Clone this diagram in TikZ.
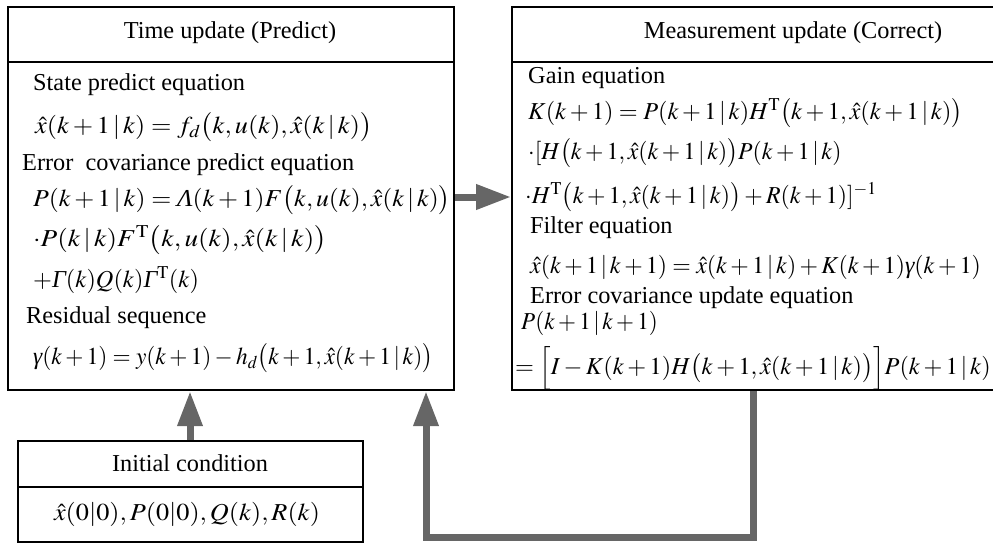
\documentclass[tikz,border=0pt]{standalone}
\usepackage{graphicx}
\usepackage{mathptmx}
\usepackage[no-math]{fontspec}
\setmainfont{Liberation Serif}
\usetikzlibrary{arrows.meta}
\newcommand{\iLam}{\mbox{\itshape Λ}}
\newcommand{\iGam}{\mbox{\itshape Γ}}
\newcommand{\igam}{\mbox{\itshape γ}}
\newcommand{\xh}{\hat{x}}
\newcommand{\Tr}{\mathrm{T}}
\newcommand{\hsx}[2]{\scalebox{#1}[1]{#2}}
\definecolor{flowgray}{RGB}{102,102,102}
\tikzset{
  box/.style={draw=black, line width=2.2pt, rectangle, inner sep=0pt, anchor=north west},
  divline/.style={draw=black, line width=2.2pt},
  txt/.style={inner sep=0pt, anchor=west, font=\fontsize{24.3}{28}\selectfont},
  ttl/.style={inner sep=0pt, anchor=center, font=\fontsize{24.3}{28}\selectfont},
  flow/.style={draw=flowgray, line width=7pt, -{Triangle[length=35pt,width=24pt]}},
}
\begin{document}
\begin{tikzpicture}[x=1pt,y=-1pt]
\useasboundingbox (0,0) rectangle (993,544);
% boxes
\node[box, minimum width=446pt, minimum height=383pt] (tu) at (7,6) {};
\node[box, minimum width=560pt, minimum height=383pt] (mu) at (511,6) {};
\node[box, minimum width=345pt, minimum height=101pt] (ic) at (17,440) {};
\draw[divline] (7,62) -- (453,62);
\draw[divline] (511,62) -- (1075,62);
\draw[divline] (17,487) -- (362,487);
% titles
\node[ttl] (tut) at (230,33) {Time update (Predict)};
\node[ttl] (mut) at (793,33) {Measurement update (Correct)};
\node[ttl] (ict) at (190,463) {Initial condition};
\node[ttl] (icv) at (187,514) {\hsx{1.08}{$\xh(0|0),P(0|0),Q(k),R(k)$}};
% left box contents
\node[txt] (l1) at (33,85) {State predict equation};
\node[txt] (l2) at (35,127) {\hsx{1.08}{$\xh(k+1\,|\,k)=f_d\bigl(k,u(k),\xh(k\,|\,k)\bigr)$}};
\node[txt] (l3) at (22,165) {Error\ \ covariance predict equation};
\node[txt] (l4) at (33,200) {\hsx{1.06}{$P(k+1\,|\,k)=\iLam(k+1)F\bigl(k,u(k),\xh(k\,|\,k)\bigr)$}};
\node[txt] (l5) at (33,240) {\hsx{1.12}{$\cdot P(k\,|\,k)F^{\Tr}\bigl(k,u(k),\xh(k\,|\,k)\bigr)$}};
\node[txt] (l6) at (33,280) {$+\iGam(k)Q(k)\iGam^{\Tr}(k)$};
\node[txt] (l7) at (26,318) {Residual sequence};
\node[txt] (l8) at (33,358) {\hsx{0.96}{$\igam(k+1)=y(k+1)-h_d\bigl(k+1,\xh(k+1\,|\,k)\bigr)$}};
% right box contents
\node[txt] (r1) at (528,78) {Gain equation};
\node[txt] (r2) at (528,113) {$K(k+1)=P(k+1\,|\,k)H^{\Tr}\bigl(k+1,\xh(k+1\,|\,k)\bigr)$};
\node[txt] (r3) at (528,153) {\hsx{0.975}{$\cdot[H\bigl(k+1,\xh(k+1\,|\,k)\bigr)P(k+1\,|\,k)$}};
\node[txt] (r4) at (525,197) {\hsx{0.98}{$\cdot H^{\Tr}\bigl(k+1,\xh(k+1\,|\,k)\bigr)+R(k+1)]^{-1}$}};
\node[txt] (r5) at (530,228) {Filter equation};
\node[txt] (r6) at (530,267) {\hsx{0.98}{$\xh(k+1\,|\,k+1)=\xh(k+1\,|\,k)+K(k+1)\igam(k+1)$}};
\node[txt] (r7) at (530,298) {Error covariance update equation};
\node[txt] (r8) at (521,323) {\hsx{0.95}{$P(k+1\,|\,k+1)$}};
\node[txt] (r9) at (515,368) {$=\Bigl[I-K(k+1)H\bigl(k+1,\xh(k+1\,|\,k)\bigr)\Bigr]P(k+1\,|\,k)$};
% connectors
\coordinate (hy) at (0,197);
\coordinate (ax) at (190,0);
\coordinate (fbx) at (426,0);
\coordinate (fbs) at (753,0);
\coordinate (fbb) at (0,537);
\draw[flow] (tu.east |- hy) -- (mu.west |- hy);
\draw[flow] (ic.north -| ax) -- (tu.south -| ax);
\draw[flow] (mu.south -| fbs) -- (fbs |- fbb) -| (tu.south -| fbx);
\end{tikzpicture}
\end{document}
